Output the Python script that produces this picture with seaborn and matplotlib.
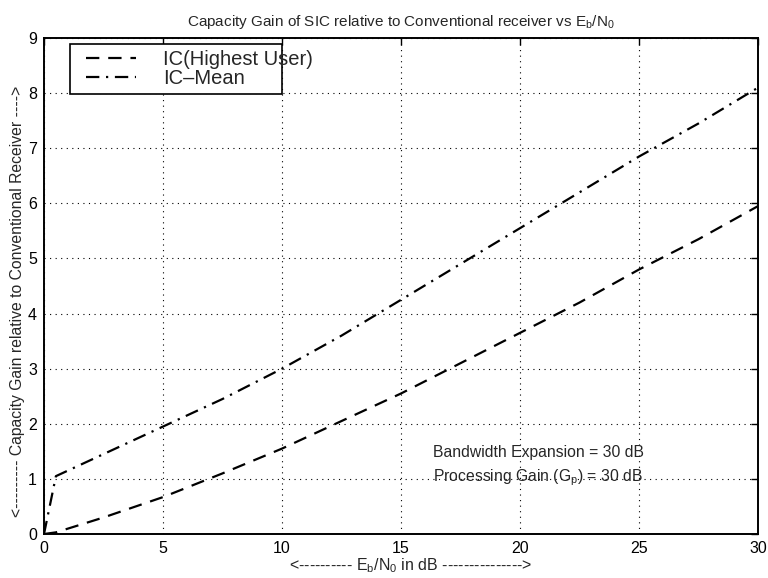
import matplotlib
matplotlib.use("Agg")
import matplotlib.pyplot as plt
from matplotlib.patches import Rectangle
import pandas as pd
import seaborn as sns

# Eb/N0 sample points (dB)
ebno_db = [0, 0.5, 2.5, 5, 7.5, 10, 12.5, 15, 17.5, 20, 22.5, 25, 27.5, 30]
# Capacity gain of SIC over conventional receiver
gain_highest_user = [0, 0.03, 0.30, 0.67, 1.10, 1.55, 2.05, 2.55, 3.10, 3.65, 4.20, 4.80, 5.35, 5.95]
gain_mean = [0, 1.05, 1.45, 1.95, 2.45, 3.00, 3.60, 4.25, 4.90, 5.55, 6.20, 6.85, 7.45, 8.10]

series_names = ["IC(Highest User)", "IC\u2013Mean"]
x_ticks = [0, 5, 10, 15, 20, 25, 30]
y_ticks = list(range(0, 10))

df = pd.DataFrame({
    "ebno": ebno_db * 2,
    "gain": gain_highest_user + gain_mean,
    "curve": [series_names[0]] * len(ebno_db) + [series_names[1]] * len(ebno_db),
})

sns.set_theme(style="white")
plt.rcParams["font.family"] = ["Liberation Sans", "DejaVu Sans"]
plt.rcParams["mathtext.fontset"] = "custom"
plt.rcParams["mathtext.rm"] = "Liberation Sans"
plt.rcParams["mathtext.it"] = "Liberation Sans"

fig = plt.figure(figsize=(7.68, 5.78), dpi=100)
ax = fig.add_axes([0.0573, 0.0761, 0.9297, 0.8581])

sns.lineplot(
    data=df, x="ebno", y="gain", hue="curve", style="curve",
    palette=["black", "black"],
    dashes={series_names[0]: (6, 4), series_names[1]: (6, 3, 1, 3)},
    linewidth=1.6, ax=ax, legend=True, sort=False,
)

ax.set_xlim(0, 30)
ax.set_ylim(0, 9)
ax.set_xticks(x_ticks)
ax.set_yticks(y_ticks)
ax.tick_params(axis="both", which="both", direction="in", length=5, width=1,
               top=True, right=True, labelsize=11.5, colors="black", pad=5)
ax.grid(True, color="black", linestyle=(0, (1, 4)), linewidth=0.8)
for sp in ax.spines.values():
    sp.set_color("black")
    sp.set_linewidth(1.4)

ax.set_title(r"Capacity Gain of SIC relative to Conventional receiver vs E$_\mathrm{b}$/N$_\mathrm{0}$",
             fontsize=11, pad=9)
ax.set_xlabel("<" + "-" * 10 + r" E$_\mathrm{b}$/N$_\mathrm{0}$ in dB " + "-" * 15 + ">",
              fontsize=11.5)
ax.xaxis.set_label_coords(0.513, -0.045)
ax.set_ylabel("<" + "-" * 9 + " Capacity Gain relative to Conventional Receiver " + "-" * 4 + ">",
              fontsize=11.3)
ax.yaxis.set_label_coords(-0.026, 0.47)

ax.text(0.545, 0.165, "Bandwidth Expansion = 30 dB", transform=ax.transAxes,
        fontsize=11.3, ha="left", va="center")
ax.text(0.545, 0.113, r"Processing Gain (G$_\mathrm{p}$) = 30 dB", transform=ax.transAxes,
        fontsize=11.3, ha="left", va="center")

# Legend frame drawn as its own box; the entries sit on top of it
ax.add_patch(Rectangle((0.0364, 0.887), 0.2969, 0.101, transform=ax.transAxes,
                       facecolor="white", edgecolor="black", linewidth=1.2, zorder=4))
handles, labels = ax.get_legend_handles_labels()
leg = ax.legend(handles, labels, loc="upper left", bbox_to_anchor=(0.059, 0.976),
                borderaxespad=0, frameon=False, fontsize=14.5, handlelength=2.5,
                handletextpad=1.3, labelspacing=0.0, borderpad=0)
leg.set_zorder(6)

fig.savefig("out.png", dpi=100)
